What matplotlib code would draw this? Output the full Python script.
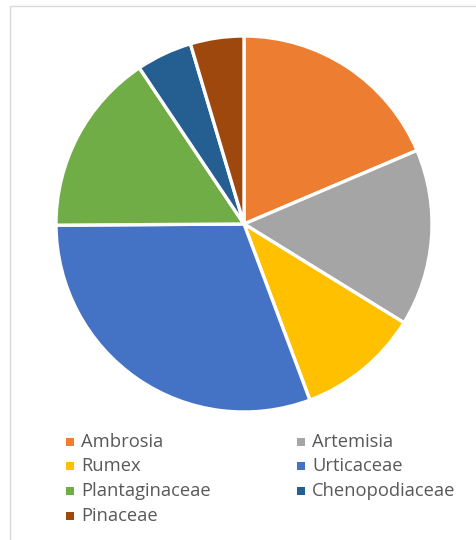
import matplotlib
matplotlib.use("Agg")
import matplotlib.pyplot as plt
from matplotlib.patches import Rectangle

categories = ["Ambrosia", "Artemisia", "Rumex", "Urticaceae",
              "Plantaginaceae", "Chenopodiaceae", "Pinaceae"]
values = [18.6, 15.2, 10.5, 30.6, 15.7, 4.8, 4.6]
colors = ["#ED7D31", "#A5A5A5", "#FFC000", "#4472C4",
          "#70AD47", "#255E91", "#9E480E"]

W, H = 476, 540
fig = plt.figure(figsize=(W / 100, H / 100), dpi=100)
fig.patch.set_facecolor("white")

# outer frame
fig.add_artist(Rectangle((10 / W, -0.1), 1.2, (H - 6) / H + 0.1,
                         transform=fig.transFigure, fill=False,
                         edgecolor="#D9D9D9", linewidth=1.0))

cx, cy, r = 244, 224, 188
ax = fig.add_axes([(cx - r) / W, (H - cy - r) / H, 2 * r / W, 2 * r / H])
ax.pie(values, colors=colors, startangle=90, counterclock=False,
       radius=1.0, wedgeprops=dict(edgecolor="white", linewidth=2.4))
ax.set_xlim(-1, 1)
ax.set_ylim(-1, 1)
ax.set_aspect("equal")
ax.axis("off")

# legend (row-wise, two columns)
col_x = [70, 301]
row_y = [442, 466, 491, 516]
sq = 8
for i, (lab, col) in enumerate(zip(categories, colors)):
    rr, cc = divmod(i, 2)
    x, y = col_x[cc], row_y[rr]
    fig.add_artist(Rectangle(((x - sq / 2) / W, (H - y - sq / 2) / H),
                             sq / W, sq / H, transform=fig.transFigure,
                             facecolor=col, edgecolor="none"))
    fig.text((x + 11) / W, (H - y) / H, lab, fontsize=13.2,
             color="#595959", va="center", ha="left", family="Open Sans")

fig.savefig("out.png", dpi=100)
